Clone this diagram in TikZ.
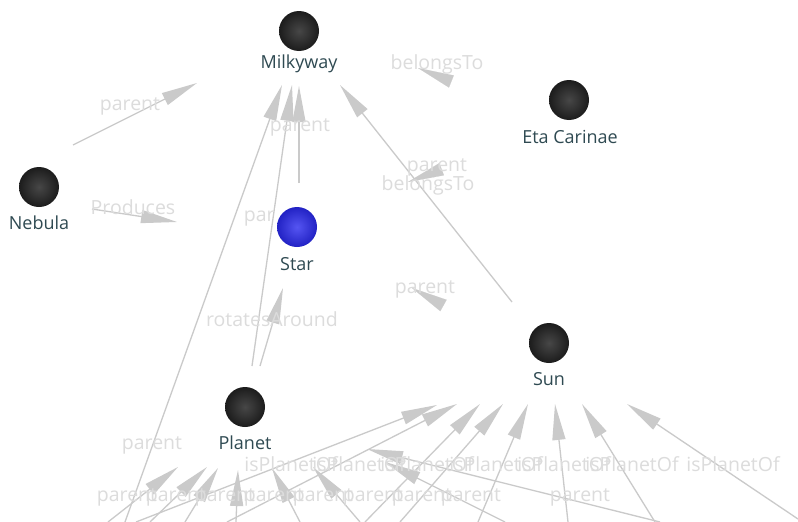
\documentclass[tikz,border=0pt]{standalone}
\usepackage{fontspec}
\setmainfont{Open Sans}
\usetikzlibrary{arrows.meta}
\definecolor{edgec}{HTML}{CACACA}
\definecolor{lblc}{HTML}{DCDCDC}
\definecolor{nodetxt}{HTML}{2F4A52}
\definecolor{ballin}{HTML}{474747}
\definecolor{ballout}{HTML}{1C1C1C}
\definecolor{starin}{HTML}{5555F2}
\definecolor{starout}{HTML}{2222C4}
\begin{document}
\begin{tikzpicture}[x=1pt,y=-1pt,
  edge/.style={draw=edgec, line width=1.3pt, -{Triangle[length=36pt,width=13pt]}},
  headonly/.style={draw=edgec, line width=0.1pt, -{Triangle[length=36pt,width=13pt]}},
  elabel/.style={text=lblc, font=\fontsize{19.5}{22}\selectfont, inner sep=0pt},
  nlabel/.style={text=nodetxt, font=\fontsize{18}{21}\selectfont, anchor=base, inner sep=0pt},
  ball/.style={circle, minimum size=40pt, inner sep=0pt, inner color=ballin, outer color=ballout},
  starball/.style={circle, minimum size=40pt, inner sep=0pt, inner color=starin, outer color=starout},
  backdrop/.style={rectangle, fill=white, minimum width=44pt, minimum height=60pt, inner sep=0pt}]
\useasboundingbox (0,0) rectangle (798,522);
\fill[white] (0,0) rectangle (798,522);

% ---------- connector end points ----------
\coordinate (nebA) at (73,145);  \coordinate (nebB) at (197,83);
\coordinate (proA) at (92,209);  \coordinate (proB) at (177,222);
\coordinate (stA) at (299,183);  \coordinate (stB) at (299,86);
\coordinate (plA) at (252,366);  \coordinate (plB) at (292,85);
\coordinate (roA) at (260,366);  \coordinate (roB) at (283,288);
\coordinate (loA) at (125,522);  \coordinate (loB) at (282,85);
\coordinate (suA) at (512,302);  \coordinate (suB) at (340,85);
\coordinate (m1A) at (441.7,169.2); \coordinate (m1B) at (408,182);
\coordinate (m2A) at (443.5,305.5); \coordinate (m2B) at (412,288);
\coordinate (m3A) at (451.4,81.5);  \coordinate (m3B) at (418,68);

% towards Sun
\coordinate (s1A) at (136,522); \coordinate (s1B) at (437,405);
\coordinate (s2A) at (227,522); \coordinate (s2B) at (457,404);
\coordinate (s3A) at (365,522); \coordinate (s3B) at (480,404);
\coordinate (s4A) at (400,522); \coordinate (s4B) at (503,404);
\coordinate (s5A) at (478,522); \coordinate (s5B) at (528,404);
\coordinate (s6A) at (568,522); \coordinate (s6B) at (555,404);
\coordinate (s7A) at (655,522); \coordinate (s7B) at (582,404);
\coordinate (s8A) at (798,519); \coordinate (s8B) at (627,404);
% towards Planet
\coordinate (q1A) at (108,522); \coordinate (q1B) at (178,467);
\coordinate (q2A) at (150,522); \coordinate (q2B) at (207,467);
\coordinate (q3A) at (185,522); \coordinate (q3B) at (218,468);
\coordinate (q4A) at (236,522); \coordinate (q4B) at (238,470);
\coordinate (q5A) at (300,522); \coordinate (q5B) at (272,468);
\coordinate (q6A) at (360,522); \coordinate (q6B) at (313,467);
\coordinate (q7A) at (660,522); \coordinate (q7B) at (367,449);
\coordinate (q8A) at (505,522); \coordinate (q8B) at (385,462);

% ---------- connectors ----------
\draw[edge] (nebA) -- (nebB);
\draw[edge] (proA) -- (proB);
\draw[edge] (stA) -- (stB);
\draw[edge] (plA) -- (plB);
\draw[edge] (roA) -- (roB);
\draw[edge] (loA) -- (loB);
\draw[edge] (suA) -- (suB);
\draw[headonly] (m1A) -- (m1B);
\draw[headonly] (m2A) -- (m2B);
\draw[headonly] (m3A) -- (m3B);
\foreach \i in {1,...,8} {\draw[edge] (s\i A) -- (s\i B);}
\foreach \i in {1,...,8} {\draw[edge] (q\i A) -- (q\i B);}

% ---------- connector labels ----------
\node[elabel] (l1) at (130,106) {parent};
\node[elabel] (l2) at (133,207) {Produces};
\node[elabel] (l3) at (300,127) {parent};
\node[elabel] (l4) at (274,217) {parent};
\node[elabel] (l5) at (272,319) {rotatesAround};
\node[elabel] (l6) at (152,445) {parent};
\node[elabel] (l7) at (437,64) {belongsTo};
\node[elabel] (l8) at (437,167) {parent};
\node[elabel] (l9) at (428,185) {belongsTo};
\node[elabel] (l10) at (425,289) {parent};
\foreach \x [count=\k] in {291,359,427,496,564,632,733}
  {\node[elabel] (ip\k) at (\x,464) {isPlanetOf};}
\foreach \x [count=\k] in {127,176,225,274,323,373,422,471,580}
  {\node[elabel] (pr\k) at (\x,497) {parent};}

% ---------- nodes ----------
\node[ball] (milky) at (299,31) {};
\node[nlabel] (milkyT) at (299,68) {Milkyway};
\node[ball] (nebula) at (39,187) {};
\node[nlabel] (nebulaT) at (39,229) {Nebula};
\node[backdrop] (starbg) at (297,238) {};
\node[starball] (star) at (297,227) {};
\node[nlabel] (starT) at (297,270) {Star};
\node[ball] (eta) at (569,100) {};
\node[nlabel] (etaT) at (570,143) {Eta Carinae};
\node[ball] (planet) at (245,407) {};
\node[nlabel] (planetT) at (245,449) {Planet};
\node[ball] (sun) at (549,343) {};
\node[nlabel] (sunT) at (549,385) {Sun};
\end{tikzpicture}
\end{document}
